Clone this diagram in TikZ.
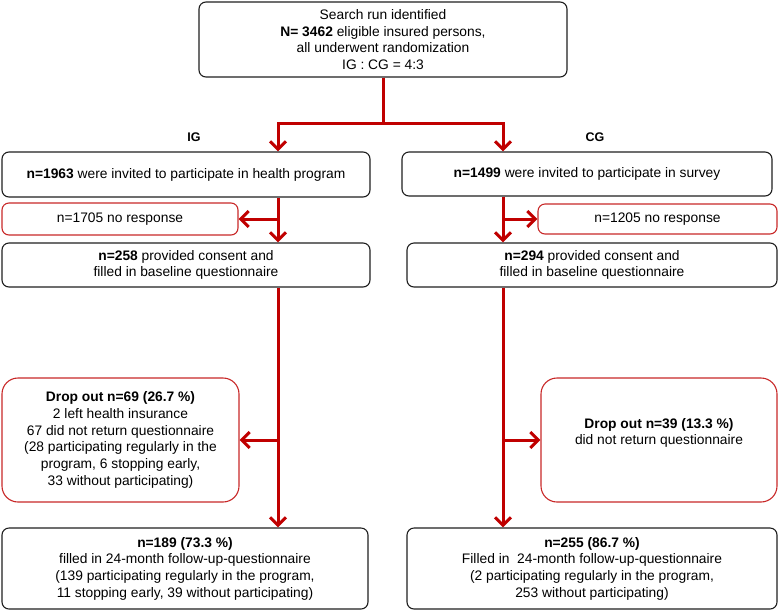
\documentclass[tikz,border=0pt]{standalone}
\usepackage{fontspec}
\setmainfont{Liberation Sans}
\usetikzlibrary{arrows.meta}
\definecolor{cred}{RGB}{192,0,0}
\definecolor{bred}{RGB}{200,40,40}
\definecolor{bgray}{RGB}{30,30,30}
\begin{document}
\begin{tikzpicture}[x=1pt,y=-1pt,
  every node/.style={font=\fontsize{13.8}{16.7}\selectfont, align=center, inner sep=0pt},
  box/.style={draw=bgray, line width=1.1pt, rounded corners=7pt},
  rbox/.style={draw=bred, line width=1.1pt, rounded corners=7pt},
  dbox/.style={draw=bred, line width=1.1pt, rounded corners=16pt},
  conn/.style={draw=cred, line width=3pt},
  arr/.style={conn, -{Straight Barb[length=8pt,width=16pt]}},
  lbl/.style={font=\fontsize{12.5}{14}\selectfont\bfseries}]
\useasboundingbox (0,0) rectangle (778,611);

% top
\node[box, minimum width=368pt, minimum height=75pt] (top) at (383,39.5)
  {Search run identified\\ \textbf{N= 3462} eligible insured persons,\\ all underwent randomization\\ IG : CG = 4:3};

\node[lbl] (ig) at (194,137) {IG};
\node[lbl] (cg) at (595,137) {CG};

% left column
\node[box, minimum width=368pt, minimum height=45pt] (L1) at (186,174.5)
  {\textbf{n=1963} were invited to participate in health program};
\node[rbox, minimum width=236pt, minimum height=32pt] (L1705) at (120,219)
  {n=1705 no response};
\node[box, minimum width=368pt, minimum height=44pt] (L258) at (186,265)
  {\textbf{n=258} provided consent and\\ filled in baseline questionnaire};
\node[dbox, minimum width=237pt, minimum height=124pt] (Ldrop) at (120.5,440)
  {\textbf{Drop out n=69 (26.7 \%)}\\ 2 left health insurance\\ 67 did not return questionnaire\\ (28 participating regularly in the\\ program, 6 stopping early,\\ 33 without participating)};
\node[box, minimum width=366pt, minimum height=81pt] (L189) at (185,568.5)
  {\textbf{n=189 (73.3 \%)}\\ filled in 24-month follow-up-questionnaire\\ (139 participating regularly in the program,\\ 11 stopping early, 39 without participating)};

% right column
\node[box, minimum width=370pt, minimum height=44pt] (R1) at (587,174)
  {\textbf{n=1499} were invited to participate in survey};
\node[rbox, minimum width=239pt, minimum height=30pt] (R1205) at (657.5,219)
  {n=1205 no response};
\node[box, minimum width=370pt, minimum height=44pt] (R294) at (592,265)
  {\textbf{n=294} provided consent and\\ filled in baseline questionnaire};
\node[dbox, minimum width=236pt, minimum height=124pt] (Rdrop) at (659,440) {};
\node (RdropT) at (659,433)
  {\textbf{Drop out n=39 (13.3 \%)}\\ did not return questionnaire};
\node[box, minimum width=370pt, minimum height=81pt] (R255) at (592,568.5)
  {\textbf{n=255 (86.7 \%)}\\ Filled in~ 24-month follow-up-questionnaire\\ (2 participating regularly in the program,\\ 253 without participating)};

% connectors
\coordinate (jl) at (278,123);
\coordinate (jr) at (503,123);
\draw[arr] (top.south) |- (jl) -- (jl |- L1.north);
\draw[arr] (top.south) |- (jr) -- (jr |- R1.north);

\draw[arr] (jl |- L1.south) -- (jl |- L258.north);
\draw[arr] (jl |- L1705.east) -- (L1705.east);
\draw[arr] (jl |- L258.south) -- (jl |- L189.north);
\draw[arr] (jl |- Ldrop.east) -- (Ldrop.east);

\draw[arr] (jr |- R1.south) -- (jr |- R294.north);
\draw[arr] (jr |- R1205.west) -- (R1205.west);
\draw[arr] (jr |- R294.south) -- (jr |- R255.north);
\draw[arr] (jr |- Rdrop.west) -- (Rdrop.west);
\end{tikzpicture}
\end{document}
